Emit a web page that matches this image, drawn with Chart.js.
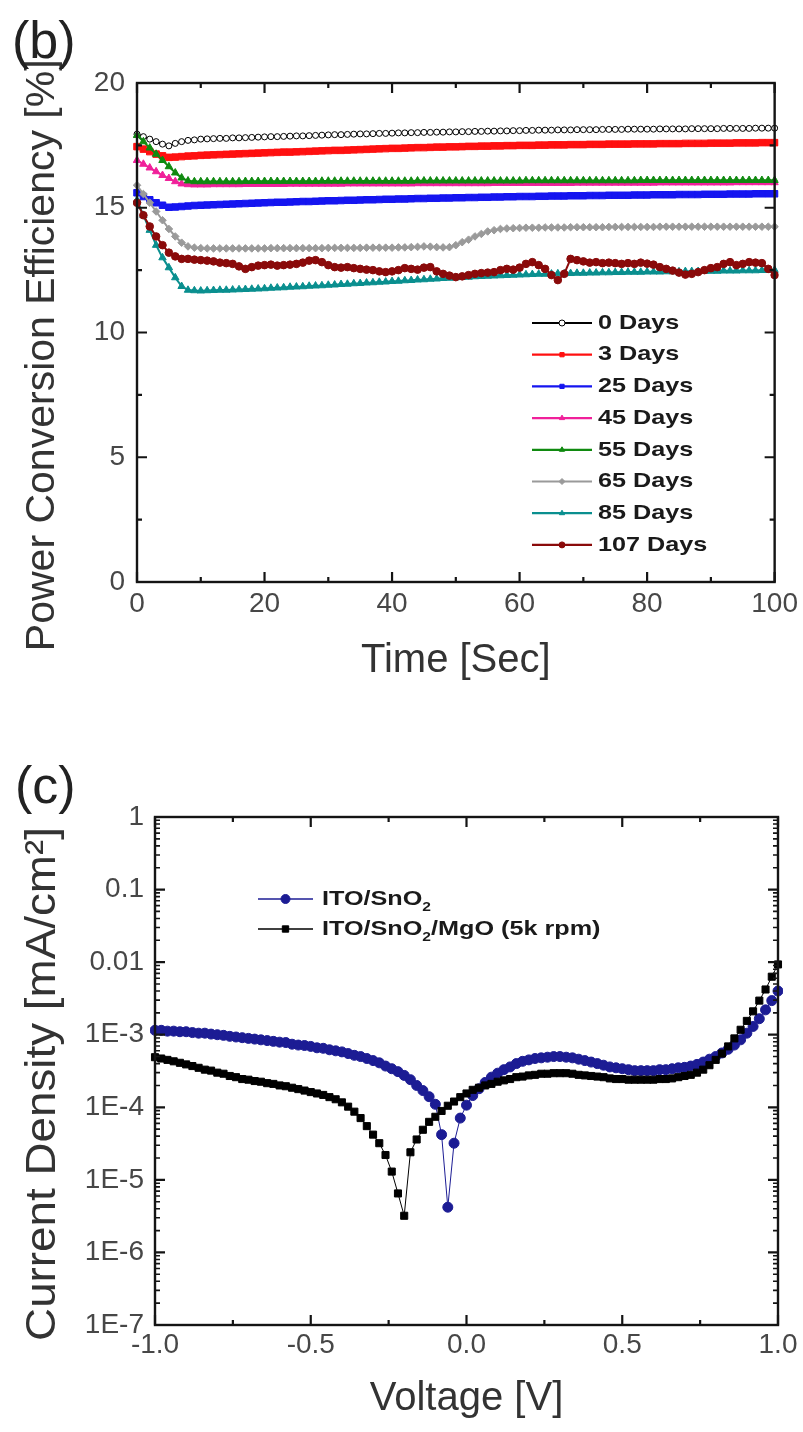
<!DOCTYPE html>
<html>
<head>
<meta charset="utf-8">
<script src="https://cdn.jsdelivr.net/npm/chart.js@4.4.1/dist/chart.umd.min.js"></script>
<style>
  html, body { margin: 0; padding: 0; background: #fff; }
  #page { position: relative; width: 803px; height: 1432px; overflow: hidden; background: #fff; }
  canvas { position: absolute; left: 0; }
  .tag { position: absolute; font-family: "Liberation Sans", Arial, sans-serif; font-size: 52px; line-height: 52px; color: #222; }
</style>
</head>
<body>
<div id="page">
  <canvas id="pce" width="803" height="700" style="top:0"></canvas>
  <canvas id="jv" width="803" height="732" style="top:700px"></canvas>
  <div class="tag" style="left:12px; top:14px;">(b)</div>
  <div class="tag" style="left:15px; top:759px;">(c)</div>
</div>
<script>
// ==================== Data: panel (b) ====================

const timeSec = [
  0, 1, 2, 3, 4, 5, 6, 7, 8, 9, 10, 11, 12, 13, 14, 15, 16, 17, 18, 19,
  20, 21, 22, 23, 24, 25, 26, 27, 28, 29, 30, 31, 32, 33, 34, 35, 36, 37, 38, 39,
  40, 41, 42, 43, 44, 45, 46, 47, 48, 49, 50, 51, 52, 53, 54, 55, 56, 57, 58, 59,
  60, 61, 62, 63, 64, 65, 66, 67, 68, 69, 70, 71, 72, 73, 74, 75, 76, 77, 78, 79,
  80, 81, 82, 83, 84, 85, 86, 87, 88, 89, 90, 91, 92, 93, 94, 95, 96, 97, 98, 99, 100
];

const pce0Days = [
  17.95,17.85,17.75,17.65,17.55,17.48,17.58,17.65,17.70,17.72,
  17.75,17.76,17.77,17.78,17.78,17.80,17.80,17.81,17.82,17.83,
  17.84,17.85,17.85,17.86,17.87,17.88,17.88,17.89,17.90,17.91,
  17.92,17.93,17.93,17.94,17.95,17.96,17.96,17.97,17.98,17.98,
  17.99,18.00,18.00,18.01,18.01,18.02,18.02,18.03,18.03,18.04,
  18.04,18.05,18.05,18.06,18.06,18.07,18.07,18.08,18.08,18.09,
  18.09,18.10,18.10,18.11,18.11,18.11,18.12,18.12,18.12,18.13,
  18.13,18.13,18.13,18.14,18.14,18.14,18.14,18.15,18.15,18.15,
  18.15,18.15,18.16,18.16,18.16,18.16,18.16,18.17,18.17,18.17,
  18.17,18.17,18.18,18.18,18.18,18.18,18.18,18.19,18.19,18.19,
  18.19
];
const pce3Days = [
  17.45,17.35,17.25,17.15,17.08,17.02,17.03,17.05,17.07,17.08,
  17.10,17.11,17.12,17.13,17.14,17.15,17.16,17.17,17.18,17.19,
  17.20,17.21,17.22,17.23,17.23,17.24,17.25,17.26,17.27,17.28,
  17.29,17.30,17.30,17.31,17.32,17.33,17.34,17.35,17.36,17.37,
  17.38,17.38,17.39,17.40,17.41,17.41,17.42,17.43,17.43,17.44,
  17.44,17.45,17.46,17.46,17.47,17.47,17.48,17.48,17.49,17.49,
  17.50,17.50,17.50,17.51,17.51,17.52,17.52,17.52,17.53,17.53,
  17.53,17.54,17.54,17.54,17.55,17.55,17.55,17.55,17.56,17.56,
  17.56,17.56,17.57,17.57,17.57,17.57,17.58,17.58,17.58,17.58,
  17.59,17.59,17.59,17.59,17.60,17.60,17.60,17.60,17.61,17.61,
  17.61
];
const pce25Days = [
  15.60,15.45,15.32,15.20,15.10,15.02,15.03,15.05,15.07,15.09,
  15.10,15.11,15.12,15.13,15.14,15.15,15.16,15.17,15.18,15.19,
  15.20,15.21,15.22,15.22,15.23,15.24,15.25,15.25,15.26,15.27,
  15.28,15.28,15.29,15.30,15.30,15.31,15.32,15.32,15.33,15.34,
  15.34,15.35,15.35,15.36,15.37,15.37,15.38,15.38,15.39,15.39,
  15.40,15.40,15.41,15.41,15.42,15.42,15.43,15.43,15.44,15.44,
  15.45,15.45,15.45,15.46,15.46,15.47,15.47,15.47,15.48,15.48,
  15.48,15.49,15.49,15.49,15.50,15.50,15.50,15.50,15.51,15.51,
  15.51,15.52,15.52,15.52,15.52,15.53,15.53,15.53,15.53,15.54,
  15.54,15.54,15.54,15.55,15.55,15.55,15.55,15.56,15.56,15.56,
  15.56
];
const pce45Days = [
  16.90,16.75,16.60,16.45,16.30,16.18,16.05,15.96,15.93,15.92,
  15.92,15.92,15.93,15.93,15.93,15.93,15.93,15.94,15.94,15.94,
  15.94,15.94,15.94,15.94,15.95,15.95,15.95,15.95,15.95,15.95,
  15.95,15.95,15.95,15.96,15.96,15.96,15.96,15.96,15.96,15.96,
  15.96,15.96,15.96,15.96,15.97,15.97,15.97,15.97,15.97,15.97,
  15.97,15.97,15.97,15.97,15.97,15.97,15.98,15.98,15.98,15.98,
  15.98,15.98,15.98,15.98,15.98,15.98,15.98,15.98,15.98,15.99,
  15.99,15.99,15.99,15.99,15.99,15.99,15.99,15.99,15.99,15.99,
  15.99,15.99,16.00,16.00,16.00,16.00,16.00,16.00,16.00,16.00,
  16.00,16.00,16.00,16.00,16.01,16.01,16.01,16.01,16.01,16.01,
  16.01
];
const pce55Days = [
  17.90,17.65,17.40,17.15,16.90,16.65,16.40,16.20,16.08,16.05,
  16.05,16.05,16.05,16.05,16.05,16.05,16.05,16.06,16.06,16.06,
  16.06,16.06,16.06,16.06,16.06,16.06,16.06,16.06,16.06,16.07,
  16.07,16.07,16.07,16.07,16.07,16.07,16.07,16.07,16.07,16.07,
  16.07,16.07,16.07,16.07,16.08,16.08,16.08,16.08,16.08,16.08,
  16.08,16.08,16.08,16.08,16.08,16.08,16.08,16.08,16.08,16.08,
  16.08,16.09,16.09,16.09,16.09,16.09,16.09,16.09,16.09,16.09,
  16.09,16.09,16.09,16.09,16.09,16.09,16.09,16.09,16.09,16.10,
  16.10,16.10,16.10,16.10,16.10,16.10,16.10,16.10,16.10,16.10,
  16.10,16.10,16.10,16.10,16.10,16.10,16.10,16.10,16.10,16.10,
  16.10
];
const pce65Days = [
  15.90,15.55,15.20,14.85,14.50,14.15,13.85,13.60,13.45,13.40,
  13.38,13.37,13.37,13.37,13.37,13.37,13.37,13.37,13.37,13.37,
  13.37,13.38,13.38,13.38,13.38,13.38,13.38,13.38,13.38,13.38,
  13.39,13.39,13.39,13.39,13.39,13.39,13.40,13.40,13.40,13.40,
  13.40,13.41,13.41,13.42,13.43,13.45,13.44,13.42,13.41,13.42,
  13.50,13.62,13.72,13.85,13.95,14.05,14.10,14.15,14.17,14.18,
  14.19,14.20,14.20,14.20,14.21,14.21,14.21,14.21,14.22,14.22,
  14.22,14.22,14.22,14.22,14.23,14.23,14.23,14.23,14.23,14.23,
  14.23,14.23,14.24,14.24,14.24,14.24,14.24,14.24,14.24,14.24,
  14.24,14.24,14.24,14.24,14.24,14.24,14.24,14.24,14.24,14.24,
  14.24
];
const pce85Days = [
  15.30,14.70,14.10,13.50,13.00,12.60,12.20,11.85,11.70,11.68,
  11.67,11.68,11.69,11.70,11.70,11.71,11.72,11.73,11.74,11.75,
  11.76,11.78,11.79,11.80,11.82,11.83,11.84,11.86,11.87,11.88,
  11.90,11.91,11.93,11.94,11.96,11.97,11.99,12.00,12.02,12.03,
  12.05,12.06,12.08,12.09,12.11,12.12,12.14,12.15,12.17,12.18,
  12.20,12.21,12.22,12.24,12.25,12.26,12.27,12.28,12.29,12.30,
  12.31,12.32,12.33,12.34,12.34,12.35,12.36,12.36,12.37,12.38,
  12.38,12.39,12.39,12.40,12.40,12.41,12.41,12.42,12.42,12.42,
  12.43,12.43,12.43,12.44,12.44,12.44,12.45,12.45,12.45,12.46,
  12.46,12.46,12.47,12.47,12.47,12.48,12.48,12.48,12.49,12.49,
  12.50
];
const pce107Days = [
  15.20,14.70,14.25,13.85,13.50,13.20,13.05,12.95,12.95,12.92,
  12.90,12.88,12.85,12.80,12.78,12.75,12.65,12.55,12.62,12.68,
  12.70,12.72,12.68,12.70,12.72,12.75,12.80,12.88,12.90,12.82,
  12.70,12.62,12.60,12.62,12.58,12.55,12.52,12.50,12.45,12.42,
  12.45,12.50,12.58,12.55,12.52,12.60,12.62,12.45,12.35,12.28,
  12.22,12.25,12.30,12.35,12.38,12.40,12.42,12.50,12.55,12.52,
  12.60,12.75,12.82,12.70,12.55,12.30,12.10,12.35,12.95,12.90,
  12.85,12.80,12.82,12.78,12.80,12.78,12.75,12.78,12.75,12.80,
  12.76,12.72,12.62,12.55,12.48,12.40,12.32,12.35,12.42,12.50,
  12.58,12.62,12.75,12.82,12.70,12.75,12.82,12.80,12.78,12.55,
  12.30
];

const ageLabels = ['0 Days', '3 Days', '25 Days', '45 Days', '55 Days', '65 Days', '85 Days', '107 Days'];
const ageSeries = [pce0Days, pce3Days, pce25Days, pce45Days, pce55Days, pce65Days, pce85Days, pce107Days];
const ageColors = ['#000000', '#ff1010', '#1515f0', '#f0209a', '#108a10', '#9a9a9a', '#0a8f8f', '#8a0a0a'];
const agePoints = ['circle', 'rect', 'rect', 'triangle', 'triangle', 'rectRot', 'triangle', 'circle'];

const timeTicks = [0, 20, 40, 60, 80, 100];
const timeMinor = [10, 30, 50, 70, 90];
const pceTicks = [0, 5, 10, 15, 20];
const pceMinor = [2.5, 7.5, 12.5, 17.5];

// ==================== Data: panel (c) ====================

const voltage = [
  -1.00,-0.98,-0.96,-0.94,-0.92,-0.90,-0.88,-0.86,-0.84,-0.82,
  -0.80,-0.78,-0.76,-0.74,-0.72,-0.70,-0.68,-0.66,-0.64,-0.62,
  -0.60,-0.58,-0.56,-0.54,-0.52,-0.50,-0.48,-0.46,-0.44,-0.42,
  -0.40,-0.38,-0.36,-0.34,-0.32,-0.30,-0.28,-0.26,-0.24,-0.22,
  -0.20,-0.18,-0.16,-0.14,-0.12,-0.10,-0.08,-0.06,-0.04,-0.02,
  0.00,0.02,0.04,0.06,0.08,0.10,0.12,0.14,0.16,0.18,
  0.20,0.22,0.24,0.26,0.28,0.30,0.32,0.34,0.36,0.38,
  0.40,0.42,0.44,0.46,0.48,0.50,0.52,0.54,0.56,0.58,
  0.60,0.62,0.64,0.66,0.68,0.70,0.72,0.74,0.76,0.78,
  0.80,0.82,0.84,0.86,0.88,0.90,0.92,0.94,0.96,0.98,
  1.00
];

const jSnO2 = [
  1.15e-3,1.15e-3,1.12e-3,1.12e-3,1.10e-3,1.10e-3,1.07e-3,1.05e-3,1.05e-3,1.02e-3,
  1.00e-3,9.8e-4,9.5e-4,9.3e-4,9.1e-4,8.9e-4,8.7e-4,8.5e-4,8.3e-4,8.1e-4,
  7.9e-4,7.8e-4,7.4e-4,7.2e-4,7.1e-4,6.9e-4,6.6e-4,6.5e-4,6.2e-4,6.0e-4,
  5.8e-4,5.5e-4,5.2e-4,5.0e-4,4.7e-4,4.4e-4,4.1e-4,3.7e-4,3.4e-4,3.1e-4,
  2.75e-4,2.4e-4,2.0e-4,1.7e-4,1.4e-4,1.1e-4,4.2e-5,4.2e-6,3.2e-5,7.1e-5,
  1.07e-4,1.45e-4,1.8e-4,2.2e-4,2.6e-4,2.95e-4,3.3e-4,3.6e-4,4.0e-4,4.3e-4,
  4.5e-4,4.7e-4,4.8e-4,4.9e-4,5.0e-4,5.0e-4,4.9e-4,4.8e-4,4.6e-4,4.4e-4,
  4.2e-4,4.0e-4,3.8e-4,3.6e-4,3.5e-4,3.4e-4,3.3e-4,3.2e-4,3.2e-4,3.2e-4,
  3.2e-4,3.3e-4,3.3e-4,3.4e-4,3.5e-4,3.55e-4,3.7e-4,3.9e-4,4.2e-4,4.6e-4,
  5.0e-4,5.6e-4,6.3e-4,7.2e-4,8.5e-4,1.05e-3,1.3e-3,1.66e-3,2.2e-3,2.95e-3,
  4.0e-3
];
const jSnO2MgO = [
  4.9e-4,4.7e-4,4.5e-4,4.3e-4,4.1e-4,3.9e-4,3.7e-4,3.5e-4,3.3e-4,3.2e-4,
  3.0e-4,2.9e-4,2.7e-4,2.6e-4,2.45e-4,2.4e-4,2.3e-4,2.25e-4,2.15e-4,2.1e-4,
  2.0e-4,1.95e-4,1.86e-4,1.78e-4,1.7e-4,1.62e-4,1.55e-4,1.48e-4,1.38e-4,1.29e-4,
  1.17e-4,1.02e-4,8.7e-5,7.1e-5,5.5e-5,4.2e-5,3.2e-5,2.2e-5,1.3e-5,6.5e-6,
  3.2e-6,2.4e-5,3.6e-5,4.9e-5,6.3e-5,7.4e-5,8.9e-5,1.05e-4,1.2e-4,1.38e-4,
  1.55e-4,1.74e-4,1.86e-4,2.0e-4,2.1e-4,2.25e-4,2.35e-4,2.45e-4,2.6e-4,2.65e-4,
  2.75e-4,2.8e-4,2.9e-4,2.9e-4,2.95e-4,2.95e-4,2.95e-4,2.9e-4,2.8e-4,2.75e-4,
  2.7e-4,2.65e-4,2.6e-4,2.5e-4,2.45e-4,2.45e-4,2.4e-4,2.4e-4,2.4e-4,2.4e-4,
  2.4e-4,2.45e-4,2.45e-4,2.5e-4,2.6e-4,2.7e-4,2.8e-4,3.0e-4,3.3e-4,3.8e-4,
  4.5e-4,5.5e-4,6.9e-4,8.9e-4,1.17e-3,1.55e-3,2.1e-3,2.95e-3,4.2e-3,6.3e-3,
  9.3e-3
];

const deviceLabels = ['ITO/SnO₂', 'ITO/SnO₂/MgO (5k rpm)'];
const deviceSeries = [jSnO2, jSnO2MgO];
const deviceColors = ['#1c1c94', '#000000'];
const devicePoints = ['circle', 'rect'];

const voltTicks = [-1, -0.5, 0, 0.5, 1];
const voltMinor = [-0.75, -0.25, 0.25, 0.75];
const jTicks = [1e-7, 1e-6, 1e-5, 1e-4, 1e-3, 1e-2, 1e-1, 1];
const jTickLabels = ['1E-7', '1E-6', '1E-5', '1E-4', '1E-3', '0.01', '0.1', '1'];
const jMinor = [];
jTicks.slice(0, -1).forEach(d => { for (let m = 2; m <= 9; m++) jMinor.push(d * m); });

// ==================== Helpers ====================

const FONT = '"Liberation Sans", Arial, Helvetica, sans-serif';
Chart.defaults.font.family = FONT;

function drawMarker(ctx, style, x, y, r, fill, stroke) {
  ctx.beginPath();
  if (style === 'rect') {
    const s = r * Math.SQRT1_2;
    ctx.rect(x - s, y - s, 2 * s, 2 * s);
  } else if (style === 'rectRot') {
    ctx.moveTo(x, y - r); ctx.lineTo(x + r, y); ctx.lineTo(x, y + r); ctx.lineTo(x - r, y); ctx.closePath();
  } else if (style === 'triangle') {
    ctx.moveTo(x, y - r); ctx.lineTo(x + r * 0.87, y + r * 0.5); ctx.lineTo(x - r * 0.87, y + r * 0.5); ctx.closePath();
  } else {
    ctx.arc(x, y, r, 0, Math.PI * 2);
  }
  ctx.fillStyle = fill;
  ctx.fill();
  ctx.lineWidth = 1;
  ctx.strokeStyle = stroke;
  ctx.stroke();
}

// Label text with "₂" rendered as a lowered subscript, stretched sideways like the figure
function drawRichLabel(ctx, text, x, y, size, stretch) {
  ctx.save();
  ctx.translate(x, y);
  ctx.scale(stretch, 1);
  const parts = text.split('₂');
  let cx = 0;
  parts.forEach((part, i) => {
    ctx.font = `bold ${size}px ${FONT}`;
    ctx.fillText(part, cx, 0);
    cx += ctx.measureText(part).width;
    if (i < parts.length - 1) {
      ctx.font = `bold ${Math.round(size * 0.6)}px ${FONT}`;
      ctx.fillText('2', cx, size * 0.38);
      cx += ctx.measureText('2').width;
    }
  });
  ctx.restore();
}

/**
 * Frame round the plot area and inward ticks on all four sides
 */
const frameTicks = {
  id: 'frameTicks',
  afterDatasetsDraw(chart, args, opts) {
    const { ctx, chartArea: a, scales: { x, y } } = chart;
    ctx.save();
    ctx.strokeStyle = '#141414';
    ctx.lineWidth = 2.4;
    ctx.strokeRect(a.left, a.top, a.right - a.left, a.bottom - a.top);

    const mark = (scale, values, len, width) => {
      ctx.lineWidth = width;
      values.forEach(v => {
        const p = scale.getPixelForValue(v);
        ctx.beginPath();
        if (scale.isHorizontal()) {
          ctx.moveTo(p, a.bottom); ctx.lineTo(p, a.bottom - len);
          ctx.moveTo(p, a.top); ctx.lineTo(p, a.top + len);
        } else {
          ctx.moveTo(a.left, p); ctx.lineTo(a.left + len, p);
          ctx.moveTo(a.right, p); ctx.lineTo(a.right - len, p);
        }
        ctx.stroke();
      });
    };
    mark(x, opts.xMajor, 10, 2.2);
    mark(x, opts.xMinor, 5, 2.2);
    mark(y, opts.yMajor, 10, 2.2);
    mark(y, opts.yMinor, 5, opts.yMinorWidth || 2.2);
    ctx.restore();
  }
};

/**
 * Legend drawn inside the plot area
 */
const insideLegend = {
  id: 'insideLegend',
  afterDraw(chart, args, opts) {
    const ctx = chart.ctx;
    ctx.save();
    ctx.textBaseline = 'middle';
    ctx.textAlign = 'left';
    chart.data.datasets.forEach((ds, i) => {
      const y = opts.top + i * opts.step;
      ctx.strokeStyle = ds.borderColor;
      ctx.lineWidth = opts.lineWidth;
      ctx.beginPath();
      ctx.moveTo(opts.x1, y);
      ctx.lineTo(opts.x2, y);
      ctx.stroke();
      drawMarker(ctx, ds.pointStyle, (opts.x1 + opts.x2) / 2, y, opts.radius,
        ds.pointBackgroundColor, ds.pointBorderColor);
      ctx.fillStyle = '#1a1a1a';
      drawRichLabel(ctx, ds.label, opts.textX, y, opts.size, opts.stretch);
    });
    ctx.restore();
  }
};

/**
 * Rotated y-axis title, lengthened along the text like the figure
 */
const sideTitle = {
  id: 'sideTitle',
  afterDraw(chart, args, opts) {
    const ctx = chart.ctx;
    ctx.save();
    ctx.translate(opts.x, opts.y);
    ctx.rotate(-Math.PI / 2);
    ctx.scale(opts.stretch, 1);
    ctx.font = `${opts.size}px ${FONT}`;
    ctx.fillStyle = opts.color;
    ctx.textAlign = 'center';
    ctx.textBaseline = 'middle';
    ctx.fillText(opts.text, 0, 0);
    ctx.restore();
  }
};

const tickFont = { family: FONT, size: 28 };
const titleFont = { family: FONT, size: 40 };

// ==================== Panel (b) ====================

new Chart(document.getElementById('pce'), {
  type: 'line',
  data: {
    datasets: ageSeries.map((series, i) => ({
      label: ageLabels[i],
      data: timeSec.map((t, k) => ({ x: t, y: series[k] })),
      borderColor: ageColors[i],
      borderWidth: 2,
      pointStyle: agePoints[i],
      pointRadius: agePoints[i] === 'rect' ? 4.6 : (i === 0 ? 3 : (agePoints[i] === 'triangle' ? 4.3 : 3.8)),
      pointBorderWidth: 1,
      pointBackgroundColor: i === 0 ? '#ffffff' : ageColors[i],
      pointBorderColor: ageColors[i],
      order: ageSeries.length - i,
      clip: 4,
      tension: 0
    }))
  },
  options: {
    responsive: false,
    animation: false,
    events: [],
    layout: { padding: { left: 0, top: 83, right: 27, bottom: 0 } },
    plugins: {
      legend: { display: false },
      tooltip: { enabled: false },
      frameTicks: { xMajor: timeTicks, xMinor: timeMinor, yMajor: pceTicks, yMinor: pceMinor },
      insideLegend: { x1: 532, x2: 592, textX: 598, top: 323, step: 31.7, radius: 3, lineWidth: 2.2, size: 21, stretch: 1.2 }
    },
    scales: {
      x: {
        type: 'linear', min: 0, max: 100,
        grid: { display: false, drawTicks: false },
        border: { display: false },
        afterBuildTicks: s => { s.ticks = timeTicks.map(v => ({ value: v })); },
        ticks: { color: '#474747', font: tickFont, padding: 5, maxRotation: 0, autoSkip: false },
        title: { display: true, text: 'Time [Sec]', color: '#333', font: titleFont, padding: { top: 0, bottom: 15 } },
        afterFit: s => { s.height = 118; }
      },
      y: {
        type: 'linear', min: 0, max: 20,
        grid: { display: false, drawTicks: false },
        border: { display: false },
        afterBuildTicks: s => { s.ticks = pceTicks.map(v => ({ value: v })); },
        ticks: { color: '#474747', font: tickFont, padding: 12, autoSkip: false },
        title: { display: true, text: 'Power Conversion Efficiency [%]\u00a0\u00a0\u00a0\u00a0', color: '#333',
          font: { family: FONT, size: 41 }, padding: { top: 18, bottom: 0 } },
        afterFit: s => { s.width = 137; }
      }
    }
  },
  plugins: [frameTicks, insideLegend]
});

// ==================== Panel (c) ====================

new Chart(document.getElementById('jv'), {
  type: 'line',
  data: {
    datasets: deviceSeries.map((series, i) => ({
      label: deviceLabels[i],
      data: voltage.map((v, k) => ({ x: v, y: series[k] })),
      borderColor: deviceColors[i],
      borderWidth: 1,
      pointStyle: devicePoints[i],
      pointRadius: 5,
      pointBorderWidth: 1,
      pointBackgroundColor: deviceColors[i],
      pointBorderColor: deviceColors[i],
      order: deviceSeries.length - i,
      clip: 5,
      tension: 0
    }))
  },
  options: {
    responsive: false,
    animation: false,
    events: [],
    layout: { padding: { left: 0, top: 117, right: 25, bottom: 0 } },
    plugins: {
      legend: { display: false },
      tooltip: { enabled: false },
      frameTicks: { xMajor: voltTicks, xMinor: voltMinor, yMajor: jTicks, yMinor: jMinor, yMinorWidth: 1.6 },
      insideLegend: { x1: 258, x2: 313, textX: 322, top: 199, step: 30, radius: 4.5, lineWidth: 1.6, size: 21, stretch: 1.2 },
      sideTitle: { text: 'Current Density [mA/cm²]', x: 43, y: 384, size: 42, stretch: 1.09, color: '#333' }
    },
    scales: {
      x: {
        type: 'linear', min: -1, max: 1,
        grid: { display: false, drawTicks: false },
        border: { display: false },
        afterBuildTicks: s => { s.ticks = voltTicks.map(v => ({ value: v })); },
        ticks: { color: '#474747', font: tickFont, padding: 3, maxRotation: 0, autoSkip: false,
          callback: v => v.toFixed(1) },
        title: { display: true, text: 'Voltage [V]', color: '#333', font: titleFont, padding: { top: 0, bottom: 9 } },
        afterFit: s => { s.height = 107; }
      },
      y: {
        type: 'logarithmic', min: 1e-7, max: 1,
        grid: { display: false, drawTicks: false },
        border: { display: false },
        afterBuildTicks: s => { s.ticks = jTicks.map(v => ({ value: v })); },
        ticks: { color: '#474747', font: tickFont, padding: 11, autoSkip: false,
          callback: (v, i) => jTickLabels[i] },
        title: { display: false },
        afterFit: s => { s.width = 155; }
      }
    }
  },
  plugins: [frameTicks, insideLegend, sideTitle]
});
</script>
</body>
</html>
